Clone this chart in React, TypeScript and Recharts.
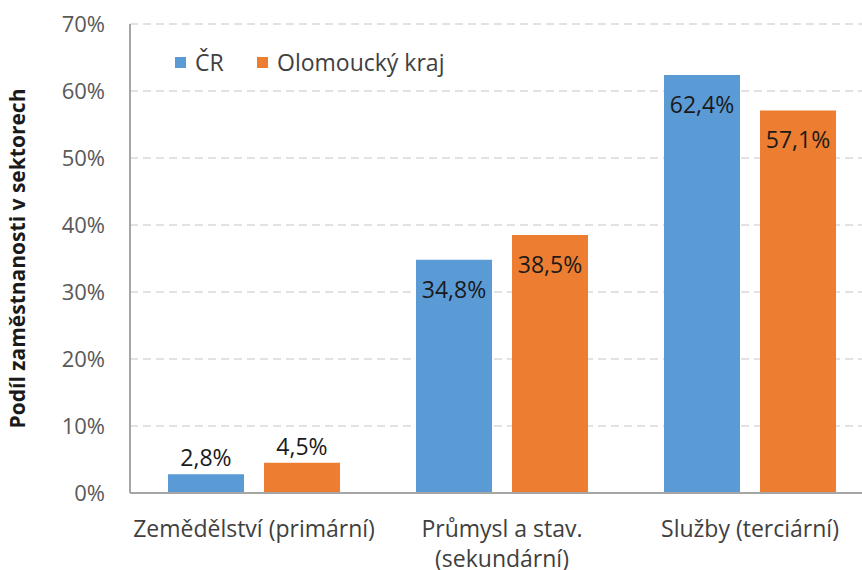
import { Bar, BarChart, CartesianGrid, XAxis, YAxis } from "recharts"

const sectors = ["Zemědělství (primární)", "Průmysl a stav. (sekundární)", "Služby (terciární)"]
const crValues = [2.8, 34.8, 62.4]
const olomouckyValues = [4.5, 38.5, 57.1]
const yTicks = [0, 10, 20, 30, 40, 50, 60, 70]

const BLUE = "#5B9BD5"
const ORANGE = "#ED7D31"
const FONT = "'Open Sans', sans-serif"

const data = sectors.map((name, i) => ({
  name,
  "ČR": crValues[i],
  "Olomoucký kraj": olomouckyValues[i],
}))

const fmt = (v: number) => v.toFixed(1).replace(".", ",") + "%"

// greedy wrap by character count, like Excel does on narrow categories
function wrapLabel(text: string, maxChars: number) {
  const lines: string[] = []
  let cur = ""
  for (const w of text.split(" ")) {
    const next = cur ? cur + " " + w : w
    if (next.length > maxChars && cur) {
      lines.push(cur)
      cur = w
    } else {
      cur = next
    }
  }
  if (cur) lines.push(cur)
  return lines
}

function BarLabel(props: any) {
  const { x, y, width, value } = props
  const inside = value >= 10
  return (
    <text
      x={x + width / 2}
      y={inside ? y + 29 : y - 17}
      textAnchor="middle"
      dominantBaseline="central"
      fontFamily={FONT}
      fontSize={23}
      fill="#1a1a1a"
    >
      {fmt(value)}
    </text>
  )
}

function CategoryTick(props: any) {
  const { x, y, payload } = props
  const lines = wrapLabel(payload.value, 22)
  return (
    <text x={x} y={y} textAnchor="middle" fontFamily={FONT} fontSize={23} fill="#404040">
      {lines.map((l, i) => (
        <tspan key={i} x={x} dy={i === 0 ? 16 : 30}>
          {l}
        </tspan>
      ))}
    </text>
  )
}

function LegendBox() {
  const items = [
    { label: "ČR", color: BLUE, left: 175 },
    { label: "Olomoucký kraj", color: ORANGE, left: 257 },
  ]
  return (
    <>
      {items.map((it) => (
        <div
          key={it.label}
          style={{
            position: "absolute",
            left: it.left,
            top: 47,
            height: 30,
            display: "flex",
            alignItems: "center",
            fontFamily: FONT,
            fontSize: 23,
            color: "#404040",
            whiteSpace: "nowrap",
          }}
        >
          <span style={{ width: 11, height: 11, background: it.color, display: "inline-block", marginRight: 9 }} />
          <span>{it.label}</span>
        </div>
      ))}
    </>
  )
}

export default function App() {
  return (
    <div style={{ position: "absolute", left: 0, top: 0, width: 862, height: 570, overflow: "hidden", background: "#fff" }}>
      <BarChart
        width={880}
        height={570}
        data={data}
        margin={{ top: 24, right: 6, left: 0, bottom: 0 }}
        barCategoryGap={38}
        barGap={20}
      >
        <CartesianGrid vertical={false} stroke="#d9d9d9" strokeWidth={1.5} strokeDasharray="8 5" />
        <XAxis
          dataKey="name"
          height={77}
          axisLine={{ stroke: "#a6a6a6", strokeWidth: 2 }}
          tickLine={false}
          tickSize={0}
          tickMargin={28}
          interval={0}
          tick={<CategoryTick />}
        />
        <YAxis
          width={130}
          domain={[0, 70]}
          ticks={yTicks}
          tickFormatter={(v: number) => `${v}%`}
          axisLine={{ stroke: "#a6a6a6", strokeWidth: 2 }}
          tickLine={false}
          tickSize={0}
          tickMargin={25}
          tick={{ fill: "#595959", fontSize: 22, fontFamily: FONT }}
          label={{
            value: "Podíl zaměstnanosti v sektorech",
            angle: -90,
            position: "insideLeft",
            offset: 18,
            style: { textAnchor: "middle", fontFamily: FONT, fontSize: 21, fontWeight: 700, fill: "#1a1a1a" },
          }}
        />
        <Bar dataKey="ČR" fill={BLUE} barSize={76} isAnimationActive={false} label={<BarLabel />} />
        <Bar dataKey="Olomoucký kraj" fill={ORANGE} barSize={76} isAnimationActive={false} label={<BarLabel />} />
      </BarChart>
      <LegendBox />
    </div>
  )
}
